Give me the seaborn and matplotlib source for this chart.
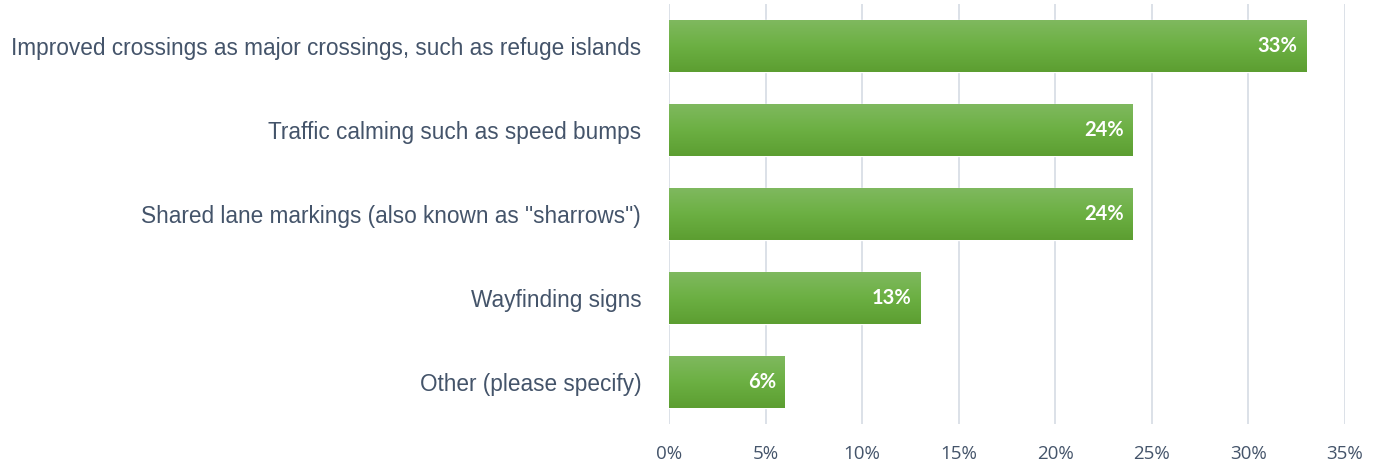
import numpy as np
import pandas as pd
import matplotlib
matplotlib.use("Agg")
import matplotlib.pyplot as plt
import seaborn as sns
from matplotlib.colors import LinearSegmentedColormap

categories = [
    "Improved crossings as major crossings, such as refuge islands",
    "Traffic calming such as speed bumps",
    'Shared lane markings (also known as "sharrows")',
    "Wayfinding signs",
    "Other (please specify)",
]
values = [33, 24, 24, 13, 6]
xticks = [0, 5, 10, 15, 20, 25, 30, 35]

sns.set_theme(style="white")
plt.rcParams['font.family'] = ['Open Sans', 'DejaVu Sans']

df = pd.DataFrame({"cat": categories, "val": values})

fig = plt.figure(figsize=(13.82, 4.67), dpi=100)
ax = fig.add_axes([0.4841, 0.0921, 0.9732 - 0.4841, 0.9914 - 0.0921])

sns.barplot(data=df, x="val", y="cat", color="#6AAD3F", width=0.62, ax=ax, zorder=3)

cmap = LinearSegmentedColormap.from_list("g", ["#80B960", "#6CB043", "#5C9E31"])
grad = np.linspace(0, 1, 256).reshape(-1, 1)
for p in ax.patches:
    x0, y0 = p.get_x(), p.get_y()
    w, h = p.get_width(), p.get_height()
    im = ax.imshow(grad, cmap=cmap, aspect="auto", extent=[x0, x0 + w, y0 + h, y0],
                   origin="upper", zorder=4)
    im.set_clip_path(p)

for i, v in enumerate(values):
    ax.text(v - 0.45, i, f"{v}%", ha="right", va="center", color="white",
            fontsize=14.5, fontweight="bold", family=["Lato", "DejaVu Sans"], zorder=5)

ax.set_xlim(0, 35)
ax.set_ylim(4.5, -0.5)
ax.set_xticks(xticks)
ax.set_xticklabels([f"{t}%" for t in xticks])
ax.xaxis.grid(True, color="#D9DEE6", linewidth=1.3, zorder=0)
ax.set_axisbelow(True)
for s in ax.spines.values():
    s.set_visible(False)
ax.tick_params(axis="x", length=0, pad=15, labelsize=13.5, labelcolor="#44546A")
ax.tick_params(axis="y", length=0, pad=20, labelsize=16.3, labelcolor="#44546A")
for lab in ax.get_yticklabels():
    lab.set_family(["Liberation Sans", "DejaVu Sans"])
ax.set_xlabel("")
ax.set_ylabel("")

fig.savefig("out.png", dpi=100)
